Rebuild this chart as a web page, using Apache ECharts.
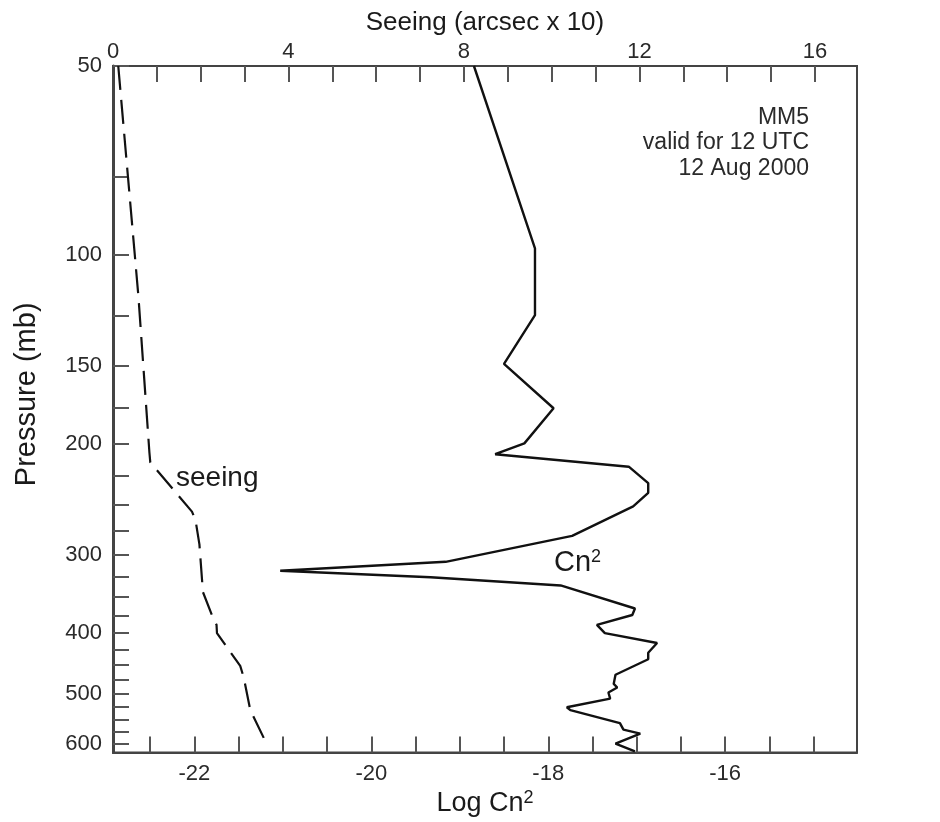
<!DOCTYPE html>
<html>
<head>
<meta charset="utf-8">
<title>MM5 seeing and Cn2</title>
<script src="https://cdn.jsdelivr.net/npm/echarts@6/dist/echarts.min.js"></script>
<style>
  html, body { margin: 0; padding: 0; background: #fff; }
  #myChart { width: 940px; height: 822px; }
</style>
</head>
<body>
<div id="myChart"></div>
<script>
// Cn2 profile (solid line): pressure (mb) and log10 Cn2
var cn2Pressure = [50, 97.6, 124.7, 149.1, 175.4, 199.5, 207.6, 217.3, 230.8, 239.2,
  251.3, 280.1, 308, 318.2, 326, 335.9, 365.5, 374.3, 388.1, 400,
  414.8, 430, 440.3, 466, 481.9, 488.4, 497.3, 508.6, 525, 530.6,
  556.4, 570, 578.4, 600, 617.4];
var cn2Log = [-18.84, -18.15, -18.15, -18.5, -17.94, -18.27, -18.6, -17.09, -16.87, -16.87,
  -17.04, -17.73, -19.16, -21.03, -19.33, -17.86, -17.02, -17.05, -17.45, -17.36,
  -16.77, -16.87, -16.87, -17.24, -17.26, -17.22, -17.32, -17.3, -17.79, -17.75,
  -17.19, -17.15, -16.96, -17.24, -17.02];

// seeing profile (dashed line): pressure (mb) and seeing (arcsec x 10)
var seeingPressure = [50, 116.5, 206.3, 213.9, 256.2, 264.1, 289, 344.1, 375.2, 388.1,
  400, 451.2, 470.6, 530.6, 602];
var seeingVal = [0.12, 0.58, 0.83, 0.85, 1.8, 1.88, 1.97, 2.05, 2.26, 2.36,
  2.37, 2.9, 2.98, 3.13, 3.51];

// tick marks / labels
var pressureTicks = [50, 75, 100, 125, 150, 175, 200, 225, 250, 275, 300, 325, 350, 375,
  400, 425, 450, 475, 500, 525, 550, 575, 600];
var pressureLabels = [50, 100, 150, 200, 300, 400, 500, 600];
var cn2Ticks = [-22.5, -22, -21.5, -21, -20.5, -20, -19.5, -19, -18.5, -18, -17.5, -17,
  -16.5, -16, -15.5, -15];
var cn2Labels = [-22, -20, -18, -16];
var seeingTicks = [1, 2, 3, 4, 5, 6, 7, 8, 9, 10, 11, 12, 13, 14, 15, 16];
var seeingLabels = [0, 4, 8, 12, 16];

var FONT = '"Liberation Sans", Arial, Helvetica, sans-serif';
var lg = function (p) { return Math.log10(p); };

var cn2Data = cn2Pressure.map(function (p, i) { return [cn2Log[i], lg(p)]; });
var seeingData = seeingPressure.map(function (p, i) { return [seeingVal[i], lg(p)]; });

var myChart = echarts.init(document.getElementById('myChart'), null, { renderer: 'canvas' });

var tickStyle = { show: true, inside: true, length: 16, lineStyle: { color: '#555', width: 2 } };

var option = {
  animation: false,
  backgroundColor: '#fff',
  textStyle: { fontFamily: FONT },
  grid: {
    left: 113, top: 66, right: 83, bottom: 59,
    show: true, borderColor: '#444', borderWidth: 2, backgroundColor: 'transparent'
  },
  xAxis: [
    {
      // bottom: Log Cn2
      type: 'value',
      position: 'bottom',
      min: -22.92,
      max: -14.51,
      name: 'Log Cn{sup|2}',
      nameLocation: 'middle',
      nameGap: 29,
      nameTextStyle: {
        fontFamily: FONT, fontSize: 27, color: '#1a1a1a',
        rich: { sup: { fontFamily: FONT, fontSize: 18, color: '#1a1a1a', verticalAlign: 'top', padding: [0, 0, 10, 0] } }
      },
      axisLine: { show: true, lineStyle: { color: '#444', width: 2 } },
      axisTick: Object.assign({ customValues: cn2Ticks }, tickStyle),
      axisLabel: {
        customValues: cn2Labels,
        fontFamily: FONT, fontSize: 22, color: '#2a2a2a', margin: 10
      },
      splitLine: { show: false }
    },
    {
      // top: seeing
      type: 'value',
      position: 'top',
      min: 0,
      max: 16.96,
      name: 'Seeing (arcsec x 10)',
      nameLocation: 'middle',
      nameGap: 30,
      nameTextStyle: { fontFamily: FONT, fontSize: 26, color: '#1a1a1a' },
      axisLine: { show: true, lineStyle: { color: '#444', width: 2 } },
      axisTick: Object.assign({ customValues: seeingTicks }, tickStyle),
      axisLabel: {
        customValues: seeingLabels,
        fontFamily: FONT, fontSize: 22, color: '#2a2a2a', margin: 3
      },
      splitLine: { show: false }
    }
  ],
  yAxis: {
    type: 'value',
    inverse: true,
    min: lg(50),
    max: lg(620),
    name: 'Pressure (mb)',
    nameLocation: 'middle',
    nameGap: 72,
    nameTextStyle: { fontFamily: FONT, fontSize: 29, color: '#1a1a1a', padding: [0, 0, 0, 30] },
    axisLine: { show: true, lineStyle: { color: '#444', width: 3 } },
    axisTick: Object.assign({}, tickStyle, { customValues: pressureTicks.map(lg) }),
    axisLabel: {
      customValues: pressureLabels.map(lg),
      fontFamily: FONT, fontSize: 22, color: '#2a2a2a', margin: 11,
      formatter: function (v) { return Math.round(Math.pow(10, v)); }
    },
    splitLine: { show: false }
  },
  series: [
    {
      name: 'Cn2',
      type: 'line',
      xAxisIndex: 0,
      data: cn2Data,
      showSymbol: false,
      silent: true,
      lineStyle: { color: '#111', width: 2.4 }
    },
    {
      name: 'seeing',
      type: 'line',
      xAxisIndex: 1,
      data: seeingData,
      showSymbol: false,
      silent: true,
      lineStyle: { color: '#111', width: 2.2, type: [24, 10] }
    }
  ],
  graphic: [
    { type: 'text', right: 131, top: 106, style: { text: 'MM5', font: '23px ' + FONT, fill: '#2a2a2a', textAlign: 'right' } },
    { type: 'text', right: 131, top: 131, style: { text: 'valid for 12 UTC', font: '23px ' + FONT, fill: '#2a2a2a', textAlign: 'right' } },
    { type: 'text', right: 131, top: 157, style: { text: '12 Aug 2000', font: '23px ' + FONT, fill: '#2a2a2a', textAlign: 'right' } },
    { type: 'text', left: 176, top: 464, style: { text: 'seeing', font: '28px ' + FONT, fill: '#1a1a1a' } },
    {
      type: 'text', left: 554, top: 548,
      style: {
        text: 'Cn{sup|2}', font: '29px ' + FONT, fill: '#1a1a1a',
        rich: { sup: { font: '18px ' + FONT, fill: '#1a1a1a', verticalAlign: 'top', padding: [0, 0, 10, 0] } }
      }
    }
  ]
};

myChart.setOption(option);
</script>
</body>
</html>
